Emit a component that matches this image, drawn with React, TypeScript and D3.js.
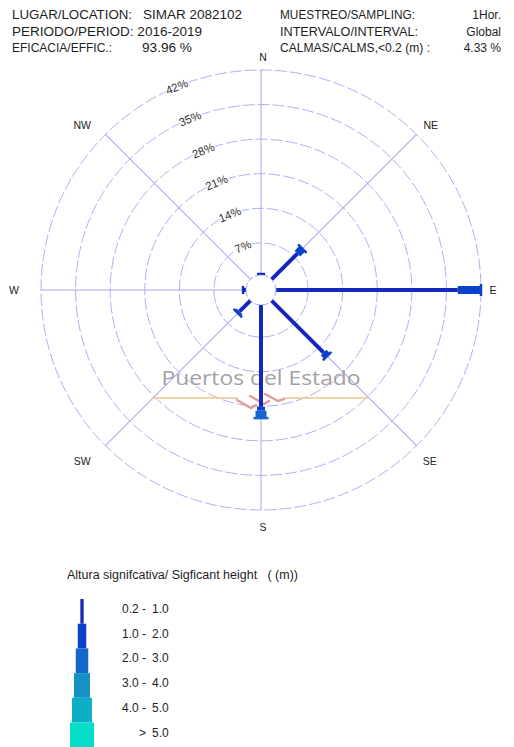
import React from "react";
import * as d3 from "d3";

// Sector bearings (degrees clockwise from north)
const directions = ["N", "NE", "E", "SE", "S", "SW", "W", "NW"];
const bearings = [0, 45, 90, 135, 180, 225, 270, 315];

// Frequency (%) per sector and significant-height class
const hs02to1 = [0.7, 7.9, 37.3, 15.4, 21.1, 3.6, 1.1, 0];
const hs1to2 = [0, 1.4, 4.7, 1.0, 0.8, 0.5, 0, 0];
const hs2to3 = [0, 0, 0, 0, 1.5, 0, 0, 0];
const hs3to4 = [0, 0, 0, 0, 0, 0, 0, 0];
const hs4to5 = [0, 0, 0, 0, 0, 0, 0, 0];
const hsOver5 = [0, 0, 0, 0, 0, 0, 0, 0];

const classLabelsLeft = ["0.2 -", "1.0 -", "2.0 -", "3.0 -", "4.0 -", ">"];
const classLabelsRight = ["1.0", "2.0", "3.0", "4.0", "5.0", "5.0"];
const classColors = ["#1428bd", "#0b42cc", "#1568c8", "#1790c6", "#0eaec6", "#05dfc9"];

const ringTicks = [7, 14, 21, 28, 35, 42];

// Header rows: [text, x, width]
const headerLeft: [string, number, number][][] = [
  [["LUGAR/LOCATION:", 12, 120], ["SIMAR 2082102", 143, 99]],
  [["PERIODO/PERIOD: 2016-2019", 12, 190]],
  [["EFICACIA/EFFIC.:", 12, 100], ["93.96 %", 142, 50]],
];
const headerRight: [string, number, string][] = [
  ["MUESTREO/SAMPLING:", 135, "1Hor."],
  ["INTERVALO/INTERVAL:", 138, "Global"],
  ["CALMAS/CALMS,<0.2 (m)  :", 150, "4.33 %"],
];

const compassLabels = ["N", "NE", "E", "SE", "S", "SW", "W", "NW"];

const WIDTH = 514;
const HEIGHT = 747;
const cx = 261;
const cy = 290;
const calmRadius = 15;
const gridColor = "#a6a6f0";
const font = "'Liberation Sans', Arial, Helvetica, sans-serif";

const r = d3.scaleLinear().domain([0, 42]).range([12.5, 220]);

// Bar widths (px) used in the rose and in the legend for each class
const roseWidths = [4, 8, 11, 14, 17, 20];
const legendWidths = [3.3, 8.5, 12.5, 16, 20, 24];

const classes = [hs02to1, hs1to2, hs2to3, hs3to4, hs4to5, hsOver5];

// Compass label radius and nudges
const labelPos: Record<string, [number, number, number]> = {
  N: [234, 2, 1],
  NE: [240, 0, 5],
  E: [234, -2, 0],
  SE: [240, -1, 1],
  S: [234, 2, 3],
  SW: [240, -9, 1],
  W: [234, -13, 0],
  NW: [240, -9, 5],
};

function polar(bearing: number, radius: number): [number, number] {
  const a = (bearing * Math.PI) / 180;
  return [cx + radius * Math.sin(a), cy - radius * Math.cos(a)];
}

export default function App() {
  const bars: React.ReactNode[] = [];
  directions.forEach((dir, i) => {
    let cum = 0;
    let lastClass = -1;
    const segs: React.ReactNode[] = [];
    classes.forEach((arr, k) => {
      const v = arr[i];
      if (v <= 0) return;
      const r0 = r(cum);
      const r1 = r(cum + v);
      const w = roseWidths[k];
      segs.push(
        <rect
          key={k}
          x={cx - w / 2}
          y={cy - r1}
          width={w}
          height={r1 - r0}
          fill={classColors[k]}
        />
      );
      cum += v;
      lastClass = k;
    });
    if (lastClass >= 0) {
      const rEnd = r(cum);
      const capW = roseWidths[lastClass] + 4;
      segs.push(
        <line
          key="cap"
          x1={cx - capW / 2}
          x2={cx + capW / 2}
          y1={cy - rEnd}
          y2={cy - rEnd}
          stroke={classColors[lastClass]}
          strokeWidth={2.5}
        />
      );
    }
    bars.push(
      <g key={dir} transform={`rotate(${bearings[i]},${cx},${cy})`}>
        {segs}
      </g>
    );
  });

  const labelBearing = -22.5;
  const pre = { whiteSpace: "pre" as const };

  return (
    <svg
      width={WIDTH}
      height={HEIGHT}
      style={{ position: "absolute", left: 0, top: 0, background: "#fff" }}
      fontFamily={font}
    >
      {/* Header */}
      <g fontSize={12} fill="#1e1e1e" style={pre}>
        {headerLeft.map((row, i) =>
          row.map(([t, x, w], j) => (
            <text
              key={`${i}-${j}`}
              x={x}
              y={19 + i * 16.5}
              textLength={w}
              lengthAdjust="spacingAndGlyphs"
            >
              {t}
            </text>
          ))
        )}
        {headerRight.map(([t, w, v], i) => (
          <g key={i}>
            <text x={280} y={19 + i * 16.5} textLength={w} lengthAdjust="spacingAndGlyphs">
              {t}
            </text>
            <text x={501} y={19 + i * 16.5} textAnchor="end">
              {v}
            </text>
          </g>
        ))}
      </g>

      {/* Grid rings */}
      {ringTicks.map((t) => (
        <circle
          key={t}
          cx={cx}
          cy={cy}
          r={r(t)}
          fill="none"
          stroke={gridColor}
          strokeWidth={0.9}
          strokeDasharray="12 3"
        />
      ))}
      {/* Sector axes */}
      {bearings.map((b) => (
        <line
          key={b}
          x1={cx}
          y1={cy - calmRadius}
          x2={cx}
          y2={cy - r(42)}
          transform={`rotate(${b},${cx},${cy})`}
          stroke={gridColor}
          strokeWidth={1}
        />
      ))}

      {/* Watermark */}
      <g>
        <text
          x={261}
          y={385}
          textAnchor="middle"
          fontFamily="'Open Sans', 'DejaVu Sans', sans-serif"
          fontSize={20}
          fill="#a2a2a2"
          textLength={199}
          lengthAdjust="spacingAndGlyphs"
        >
          Puertos del Estado
        </text>
        <line x1={152} x2={238} y1={398} y2={398} stroke="#e8c98e" strokeWidth={1.5} />
        <line x1={284} x2={368} y1={398} y2={398} stroke="#e8c98e" strokeWidth={1.5} />
        <g fill="none" stroke="#e39b9b" strokeWidth={2.5} strokeLinecap="round">
          <path d="M237,400 L251,408 L256,405" />
          <path d="M250,396 L264,404 L269,401" />
          <path d="M265,394 L278,401 L284,399" />
        </g>
      </g>

      {/* Bars */}
      {bars}

      {/* Calm circle */}
      <circle
        cx={cx}
        cy={cy}
        r={calmRadius}
        fill="#fff"
        stroke={gridColor}
        strokeWidth={1}
        strokeDasharray="6 2"
      />

      {/* Ring labels */}
      {ringTicks.map((t) => {
        const [x, y] = polar(labelBearing, r(t));
        return (
          <text
            key={t}
            x={x}
            y={y}
            transform={`rotate(${labelBearing},${x},${y})`}
            textAnchor="middle"
            dominantBaseline="central"
            fontSize={11.5}
            fill="#2e2e2e"
            stroke="#fff"
            strokeWidth={2.5}
            paintOrder="stroke"
          >
            {t}%
          </text>
        );
      })}

      {/* Compass labels */}
      {compassLabels.map((lab, i) => {
        const [rad, dx, dy] = labelPos[lab];
        const [x, y] = polar(bearings[i], rad);
        return (
          <text
            key={lab}
            x={x + dx}
            y={y + dy}
            textAnchor="middle"
            dominantBaseline="central"
            fontSize={10.5}
            fill="#222"
          >
            {lab}
          </text>
        );
      })}

      {/* Legend */}
      <text
        x={67}
        y={579}
        fontSize={12}
        fill="#1e1e1e"
        style={pre}
        textLength={231}
        lengthAdjust="spacingAndGlyphs"
      >
        {"Altura signifcativa/ Sigficant height   ( (m))"}
      </text>
      {classColors.map((c, k) => {
        const top = 599 + k * 24.7;
        const w = legendWidths[k];
        return (
          <g key={k}>
            <rect x={82 - w / 2} y={top} width={w} height={24.7} fill={c} />
            <text x={146} y={top + 14} textAnchor="end" fontSize={12} fill="#1e1e1e">
              {classLabelsLeft[k]}
            </text>
            <text x={152} y={top + 14} fontSize={12} fill="#1e1e1e">
              {classLabelsRight[k]}
            </text>
          </g>
        );
      })}
    </svg>
  );
}
